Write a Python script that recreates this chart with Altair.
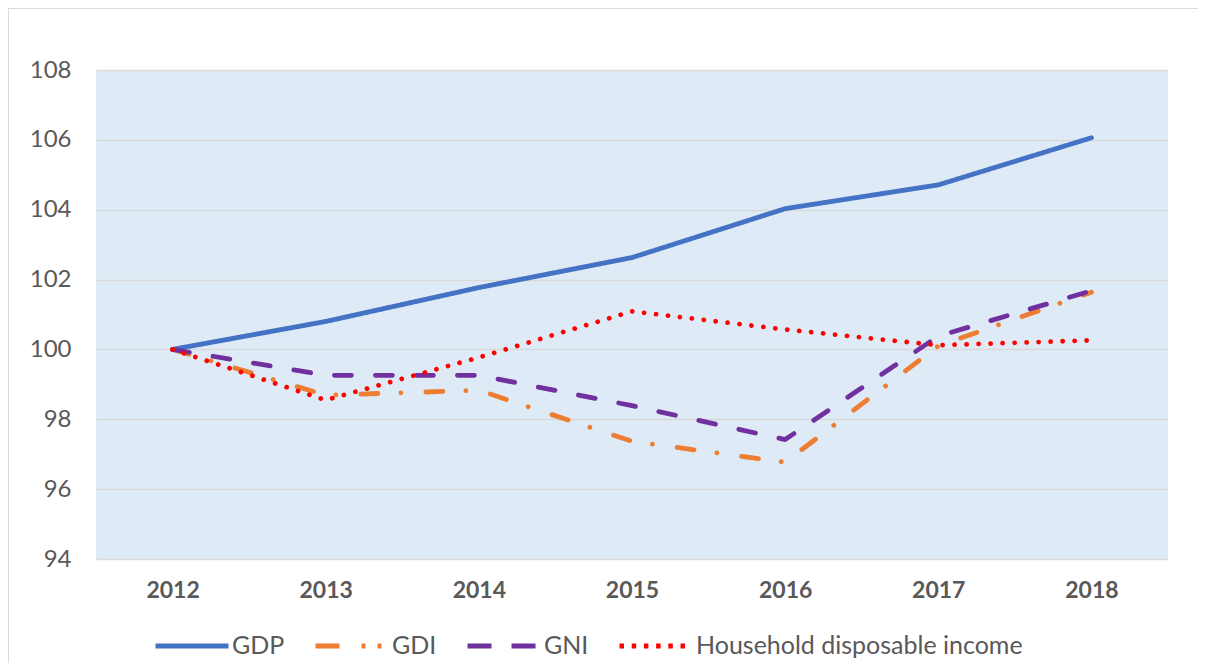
import altair as alt
import pandas as pd

years = ["2012", "2013", "2014", "2015", "2016", "2017", "2018"]
gdp = [100.0, 100.8, 101.77, 102.63, 104.03, 104.71, 106.06]
gdi = [100.0, 98.69, 98.83, 97.37, 96.77, 100.1, 101.64]
gni = [100.0, 99.26, 99.26, 98.39, 97.42, 100.38, 101.68]
hdi = [100.0, 98.55, 99.77, 101.09, 100.57, 100.12, 100.26]

series = ["GDP", "GDI", "GNI", "Household disposable income"]
colors = ["#4472C4", "#ED7D31", "#7030A0", "#FF0000"]
dashes = [[1, 0], [17, 23, 0.01, 25], [17, 24], [0.01, 12]]
legend_dashes = [[1, 0], [24, 22, 4, 12, 4, 30], [24, 20], [4.5, 7.7]]
y_ticks = [94, 96, 98, 100, 102, 104, 106, 108]

rows = []
for name, vals in zip(series, [gdp, gdi, gni, hdi]):
    for yr, v in zip(years, vals):
        rows.append({"year": yr, "value": v, "series": name})
df = pd.DataFrame(rows)

FONT = "Lato"
W, H = 1072, 489
PAD_R, PAD_B = 30, 104

x_enc = alt.X("year:O", sort=years,
              scale=alt.Scale(type="point", padding=0.5),
              axis=alt.Axis(title=None, labelAngle=0, labelFont=FONT, labelFontSize=23,
                            labelFontWeight="bold", labelColor="#595959", labelPadding=20,
                            ticks=False, domain=False, grid=False))
y_enc = alt.Y("value:Q",
              scale=alt.Scale(domain=[94, 108], nice=False, zero=False),
              axis=alt.Axis(title=None, values=y_ticks, labelFont=FONT, labelFontSize=24,
                            labelColor="#595959", labelPadding=25, ticks=False, domain=False,
                            grid=True, gridColor="#D9D9D9", gridWidth=1.5))

lines = alt.Chart(df).mark_line(strokeWidth=4.8, strokeCap="round", strokeJoin="round").encode(
    x=x_enc,
    y=y_enc,
    color=alt.Color("series:N", sort=series,
                    scale=alt.Scale(domain=series, range=colors), legend=None),
    strokeDash=alt.StrokeDash("series:N", sort=series,
                              scale=alt.Scale(domain=series, range=dashes), legend=None),
    order=alt.Order("year:O"),
)

legend_layer = alt.Chart(df).transform_filter("false").mark_line(strokeWidth=4.8).encode(
    x=alt.X("year:O", sort=years),
    y=alt.Y("value:Q"),
    color=alt.Color("series:N", sort=series,
                    scale=alt.Scale(domain=series, range=colors),
                    legend=alt.Legend(title=None, orient="none", direction="horizontal",
                                      legendX=57, legendY=537,
                                      symbolType="stroke", symbolSize=5329,
                                      symbolStrokeWidth=4.8,
                                      labelFont=FONT, labelFontSize=25, labelColor="#595959",
                                      labelOffset=1, labelLimit=600, columnPadding=20)),
    strokeDash=alt.StrokeDash("series:N", sort=series,
                              scale=alt.Scale(domain=series, range=legend_dashes)),
)

border = alt.Chart(pd.DataFrame({"a": [0]})).mark_rect(
    fill="transparent", stroke="#D9D9D9", strokeWidth=2, clip=False
).encode(
    x=alt.value(-88), x2=alt.value(W + PAD_R + 10),
    y=alt.value(-62), y2=alt.value(H + PAD_B + 10),
)

chart = alt.layer(border, lines, legend_layer).resolve_scale(
    color="independent", strokeDash="independent"
).properties(
    width=W, height=H,
    background="white",
    autosize=alt.AutoSizeParams(type="none"),
    padding={"left": 88, "top": 62, "right": PAD_R, "bottom": PAD_B},
).configure_view(stroke=None, fill="#DEEAF6")

chart.save("out.html", embed_options={"renderer": "svg", "actions": False})
